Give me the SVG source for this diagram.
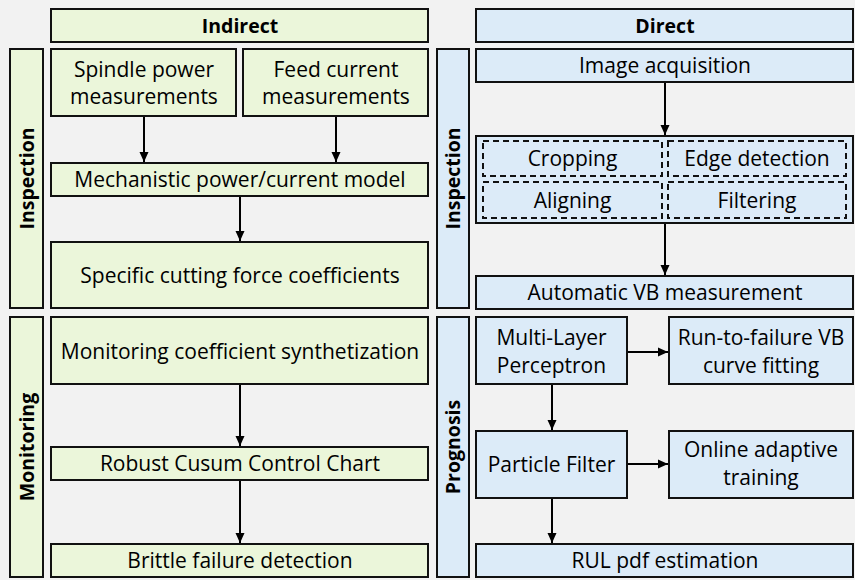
<svg xmlns="http://www.w3.org/2000/svg" width="855" height="580" viewBox="0 0 855 580">
<defs>
<marker id="ah" viewBox="0 0 10 10" refX="10" refY="5" markerWidth="10" markerHeight="10" markerUnits="userSpaceOnUse" orient="auto">
<path d="M0,0.5 L10,5 L0,9.5 Z" fill="#000"/>
</marker>
<style>
.g{fill:#ebf6da;stroke:#111;stroke-width:2}
.b{fill:#dcebf8;stroke:#111;stroke-width:2}
.d{fill:none;stroke:#111;stroke-width:2;stroke-dasharray:6 4}
text{font-family:"Open Sans","Noto Sans",sans-serif;font-size:21px;fill:#000;text-anchor:middle}
.h{font-weight:bold;font-size:19.5px}
.c line{stroke:#000;stroke-width:2;marker-end:url(#ah)}
</style>
</defs>
<rect x="0" y="0" width="855" height="580" fill="#f2f2f2"/>

<g id="hdr-indirect"><rect class="g" x="51" y="9" width="377" height="33"/><text class="h" x="240" y="32.5">Indirect</text></g>
<g id="hdr-direct"><rect class="b" x="476" y="9" width="377" height="33"/><text class="h" x="665" y="32.5">Direct</text></g>

<g id="lbl-insp-l"><rect class="g" x="10" y="49" width="33" height="259"/><text class="h" transform="translate(33.5,178.5) rotate(-90)">Inspection</text></g>
<g id="lbl-mon"><rect class="g" x="10" y="317" width="33" height="260"/><text class="h" transform="translate(33.5,447) rotate(-90)">Monitoring</text></g>
<g id="lbl-insp-r"><rect class="b" x="437" y="49" width="32" height="259"/><text class="h" transform="translate(460,178.5) rotate(-90)">Inspection</text></g>
<g id="lbl-prog"><rect class="b" x="437" y="317" width="32" height="260"/><text class="h" transform="translate(460,447) rotate(-90)">Prognosis</text></g>

<g id="spindle"><rect class="g" x="51" y="49" width="185" height="67"/><text x="144" y="77">Spindle power</text><text x="144" y="104">measurements</text></g>
<g id="feed"><rect class="g" x="243" y="49" width="185" height="67"/><text x="336" y="77">Feed current</text><text x="336" y="104">measurements</text></g>
<g id="mech"><rect class="g" x="51" y="163" width="377" height="33"/><text x="240" y="187">Mechanistic power/current model</text></g>
<g id="specific"><rect class="g" x="51" y="242" width="377" height="66"/><text x="240" y="282.5">Specific cutting force coefficients</text></g>
<g id="moncoef"><rect class="g" x="51" y="317" width="377" height="67"/><text x="240" y="358.5">Monitoring coefficient synthetization</text></g>
<g id="robust"><rect class="g" x="51" y="447" width="377" height="33"/><text x="240" y="471">Robust Cusum Control Chart</text></g>
<g id="brittle"><rect class="g" x="51" y="544" width="377" height="33"/><text x="240" y="568">Brittle failure detection</text></g>

<g id="imgacq"><rect class="b" x="476" y="49" width="377" height="33"/><text x="665" y="73">Image acquisition</text></g>
<g id="proc"><rect class="b" x="476" y="136" width="377" height="87"/>
<rect class="d" x="483" y="141" width="179" height="35"/><text x="572.5" y="166">Cropping</text>
<rect class="d" x="668" y="141" width="178" height="35"/><text x="757" y="166">Edge detection</text>
<rect class="d" x="483" y="182" width="179" height="36"/><text x="572.5" y="207.5">Aligning</text>
<rect class="d" x="668" y="182" width="178" height="36"/><text x="757" y="207.5">Filtering</text>
</g>
<g id="autovb"><rect class="b" x="476" y="276" width="377" height="33"/><text x="665" y="300">Automatic VB measurement</text></g>
<g id="mlp"><rect class="b" x="476" y="317" width="151" height="67"/><text x="551.5" y="345">Multi-Layer</text><text x="551.5" y="373">Perceptron</text></g>
<g id="rtf"><rect class="b" x="669" y="317" width="184" height="67"/><text x="761" y="345">Run-to-failure VB</text><text x="761" y="373">curve fitting</text></g>
<g id="pf"><rect class="b" x="476" y="431" width="151" height="67"/><text x="551.5" y="471.5">Particle Filter</text></g>
<g id="online"><rect class="b" x="669" y="431" width="184" height="67"/><text x="761" y="457">Online adaptive</text><text x="761" y="485">training</text></g>
<g id="rul"><rect class="b" x="476" y="544" width="377" height="33"/><text x="665" y="568">RUL pdf estimation</text></g>

<g id="connectors" class="c">
<line x1="144" y1="117" x2="144" y2="162"/>
<line x1="336" y1="117" x2="336" y2="162"/>
<line x1="240" y1="197" x2="240" y2="241"/>
<line x1="240" y1="385" x2="240" y2="446"/>
<line x1="240" y1="481" x2="240" y2="543"/>
<line x1="665" y1="83" x2="665" y2="135"/>
<line x1="665" y1="224" x2="665" y2="275"/>
<line x1="628" y1="352" x2="668" y2="352"/>
<line x1="552" y1="385" x2="552" y2="430"/>
<line x1="628" y1="464" x2="668" y2="464"/>
<line x1="552" y1="499" x2="552" y2="543"/>
</g>
</svg>
